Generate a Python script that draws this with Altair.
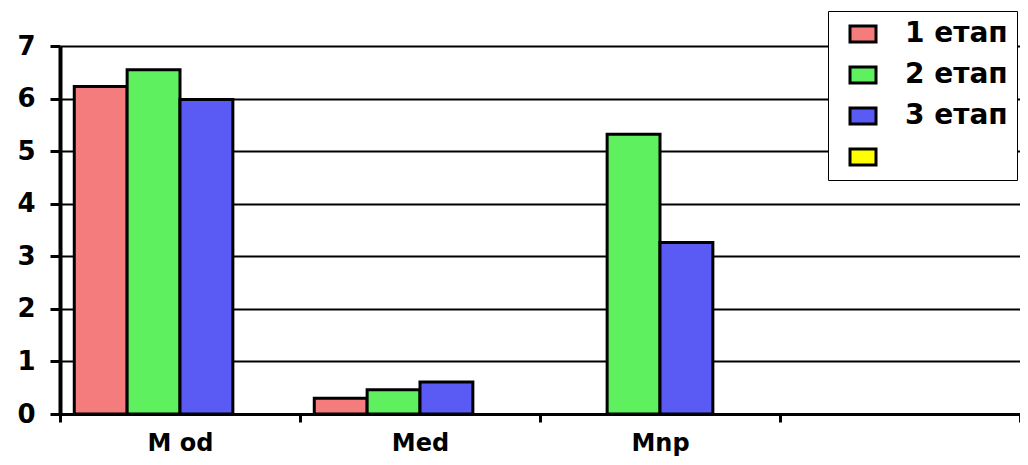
import altair as alt
import pandas as pd

categories = ["M od", "Med", "Mnp", "4"]
series = ["1 етап", "2 етап", "3 етап", "4"]
stage1 = [6.23, 0.30, None, None]
stage2 = [6.55, 0.46, 5.32, None]
stage3 = [5.98, 0.61, 3.26, None]
colors = ["#f47c7c", "#5ef05e", "#5a5af5", "#ffff00"]
y_ticks = [0, 1, 2, 3, 4, 5, 6, 7]

rows = []
for s, vals in zip(series[:3], [stage1, stage2, stage3]):
    for c, v in zip(categories, vals):
        if v is not None:
            rows.append({"cat": c, "stage": s, "value": v})
df = pd.DataFrame(rows)

FONT = "DejaVu Sans"

chart = alt.Chart(df).mark_bar(stroke="black", strokeWidth=3).encode(
    x=alt.X(
        "cat:N",
        sort=categories,
        scale=alt.Scale(domain=categories, paddingInner=0, paddingOuter=0),
        axis=alt.Axis(
            title=None, labelAngle=0,
            labelExpr="datum.label == '4' ? '' : datum.label",
            tickBand="extent", tickSize=8, tickWidth=3, tickColor="black",
            domainColor="black", domainWidth=3,
            labelFont=FONT, labelFontSize=24, labelFontWeight="bold",
            labelColor="black", labelPadding=9,
        ),
    ),
    xOffset=alt.XOffset("stage:N", scale=alt.Scale(domain=series, paddingInner=0, paddingOuter=0.27)),
    y=alt.Y(
        "value:Q",
        scale=alt.Scale(domain=[0, 7], nice=False),
        axis=alt.Axis(
            title=None, values=y_ticks, grid=True, gridColor="black", gridWidth=2,
            gridOpacity=1, tickSize=10, tickWidth=3, tickColor="black",
            domainColor="black", domainWidth=4,
            labelFont=FONT, labelFontSize=26, labelFontWeight="bold",
            labelColor="black", labelPadding=15,
        ),
    ),
    color=alt.Color(
        "stage:N",
        scale=alt.Scale(domain=series, range=colors),
        legend=alt.Legend(
            title=None,
            orient="none", legendX=768, legendY=-35,
            fillColor="white", strokeColor="black", padding=9,
            symbolType="M-1.3,-0.8H1.3V0.8H-1.3Z", symbolSize=400,
            symbolStrokeColor="black", symbolStrokeWidth=3, symbolOpacity=1,
            symbolOffset=12, labelOffset=28, rowPadding=13, labelLimit=400,
            labelExpr="datum.label == '4' ? '' : datum.label",
            labelFont=FONT, labelFontSize=28, labelFontWeight="bold", labelColor="black",
        ),
    ),
).properties(
    width=960, height=368,
    padding={"left": 52, "top": 38, "right": 0, "bottom": 43},
    autosize=alt.AutoSizeParams(type="none"),
).configure_view(stroke=None).configure(background="white")

chart.save("out.html", embed_options={"renderer": "svg", "actions": False})
